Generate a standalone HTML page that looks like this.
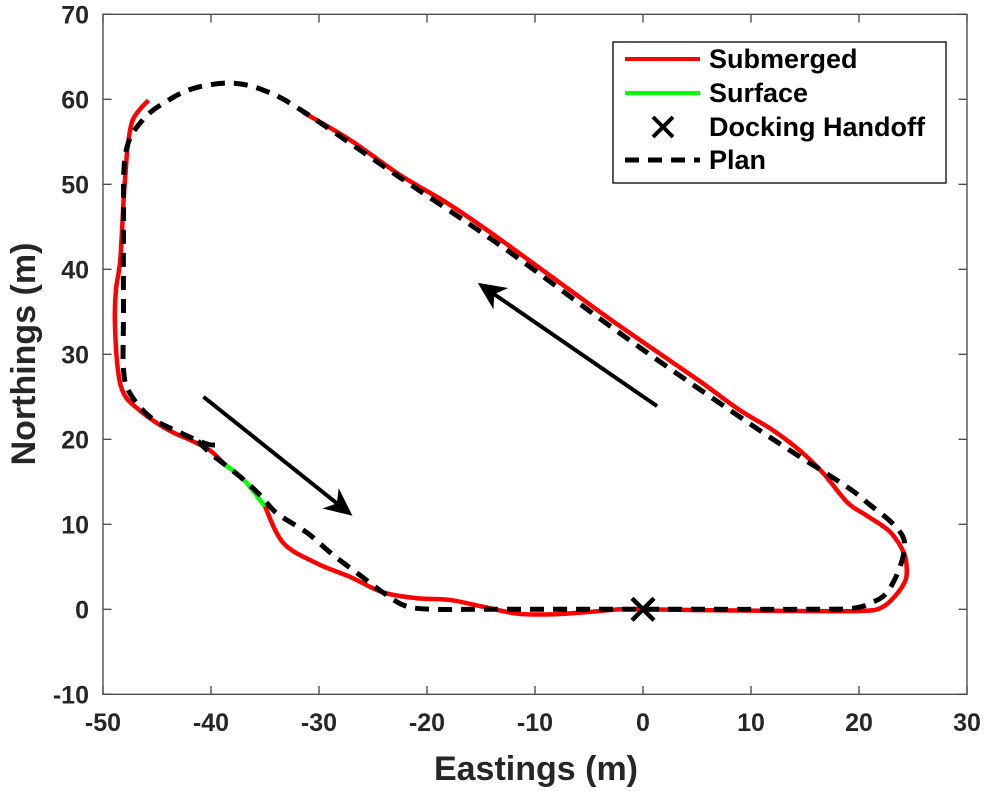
<!DOCTYPE html>
<html><head><meta charset="utf-8"><style>
html,body{margin:0;padding:0;background:#fff;}
svg{display:block;font-family:"Liberation Sans",Arial,sans-serif;font-weight:bold;}
</style></head><body>
<svg id="chart" width="986" height="791" viewBox="0 0 986 791" xmlns="http://www.w3.org/2000/svg">
<g id="marks"></g>
<rect x="103" y="14.3" width="864" height="680" fill="none" stroke="#444" stroke-width="1.3"/>
<g id="axes"></g>
<text x="536" y="780" font-size="34" text-anchor="middle" fill="#262626">Eastings (m)</text>
<text transform="translate(35,354) rotate(-90)" font-size="34" text-anchor="middle" fill="#262626">Northings (m)</text>
<g>
<rect x="613" y="42" width="333" height="141" fill="#fff" stroke="#000" stroke-width="1.3"/>
<line x1="625" y1="59" x2="700" y2="59" stroke="#ff0000" stroke-width="4"/>
<text x="709" y="68" font-size="27">Submerged</text>
<line x1="625" y1="93" x2="700" y2="93" stroke="#00ff00" stroke-width="4"/>
<text x="709" y="102" font-size="27">Surface</text>
<path d="M653,117 L673,137 M673,117 L653,137" stroke="#000" stroke-width="4"/>
<text x="709" y="136" font-size="27">Docking Handoff</text>
<line x1="625" y1="160" x2="700" y2="160" stroke="#000" stroke-width="5" stroke-dasharray="14 9"/>
<text x="709" y="169" font-size="27">Plan</text>
</g>
</svg>
<script>
const xTicks=[-50,-40,-30,-20,-10,0,10,20,30];
const yTicks=[-10,0,10,20,30,40,50,60,70];
const planE=[-41.2,-40,-37.5,-35.5,-33.9,-31.1,-28.7,-26.2,-24.1,-22,-19.5,-15,-5,5,15,19.3,21.2,22.6,23.8,24.2,23.1,21,18.9,13.6,9,1.6,-4,-13.2,-22.5,-31.5,-35,-38,-41.3,-43.8,-46.3,-47.9,-48.1,-48.1,-48.1,-47.5,-45.6,-42.9,-40.5,-39.5];
const planN=[19.8,18.3,15.8,13.5,11.3,9,6.4,4,2,0.4,0,0,0,0,0,0.1,0.8,2,5,8,10.1,12.3,14.4,18.7,22.6,29.1,34.2,42.8,50.8,58.6,61,61.9,61.4,60,57.6,53.7,45,35,28.2,25.4,22.6,20.8,19.5,19.3];
const subE1=[-45.8,-47.2,-47.7,-47.9,-48.1,-48.4,-48.8,-48.9,-48.6,-48,-46.6,-45,-43.5,-41.9,-40.1,-38.7];
const subN1=[59.9,57.7,54.6,51.6,48,41.1,37.6,33.8,28,25.2,23.4,21.9,20.8,19.9,18.7,17];
const surfE=[-38.7,-37,-35];
const surfN=[17,15.3,12.1];
const subE2=[-35,-33.3,-30.2,-27.1,-24.1,-20.9,-17.9,-14.8,-11.7,-8.6,-4.9,-2.1,0,5.3,14.5,20.1,22,23.3,24.3,24.4,24.1,23.1,22.2,20.5,18.9,16.7,14.5,12,9,5.3,-0.3,-4,-13.2,-17.9,-22.5,-27.1,-31.5];
const subN2=[12.1,7.8,5.4,3.8,2,1.3,1.1,0.3,-0.5,-0.6,-0.3,0,0,-0.1,-0.2,-0.2,0.15,1.5,3.4,5.2,6.8,8.8,9.8,11.2,12.6,16,18.7,21.1,23.4,26.8,31.7,35,43.5,47.6,51.1,55.2,58.5];
const dockE=[0], dockN=[0];
const arrowsFrom=[[1.3,23.9],[-40.7,25]];
const arrowsTo=[[-15.3,38.4],[-26.9,11]];

const X=e=>643+10.8*e, Y=n=>609.3-8.5*n;
const NS="http://www.w3.org/2000/svg";
const marks=document.getElementById('marks'), axes=document.getElementById('axes');
function smooth(E,N){
  const p=E.map((e,i)=>[X(e),Y(N[i])]);
  let d=`M${p[0][0]},${p[0][1]}`;
  for(let i=0;i<p.length-1;i++){
    const p0=p[Math.max(0,i-1)],p1=p[i],p2=p[i+1],p3=p[Math.min(p.length-1,i+2)];
    const c1=[p1[0]+(p2[0]-p0[0])/6,p1[1]+(p2[1]-p0[1])/6];
    const c2=[p2[0]-(p3[0]-p1[0])/6,p2[1]-(p3[1]-p1[1])/6];
    d+=` C${c1[0]},${c1[1]} ${c2[0]},${c2[1]} ${p2[0]},${p2[1]}`;
  }
  return d;
}
function mk(tag,attrs,parent){const el=document.createElementNS(NS,tag);for(const k in attrs)el.setAttribute(k,attrs[k]);parent.appendChild(el);return el;}
let el;
el=mk('path',{d:smooth(subE1,subN1),fill:'none',stroke:'#ff0000','stroke-width':4.5,'stroke-linejoin':'round'},marks);


el=mk('path',{d:smooth(subE2,subN2),fill:'none',stroke:'#ff0000','stroke-width':4.5,'stroke-linejoin':'round'},marks);


el=mk('path',{d:smooth(surfE,surfN),fill:'none',stroke:'#00ff00','stroke-width':4.5},marks);


el=mk('path',{d:smooth(planE,planN),fill:'none',stroke:'#000','stroke-width':5,'stroke-dasharray':'14 9'},marks);


dockE.forEach((e,i)=>{const cx=X(e),cy=Y(dockN[i]);
  el=mk('path',{d:`M${cx-11},${cy-11}L${cx+11},${cy+11}M${cx+11},${cy-11}L${cx-11},${cy+11}`,stroke:'#000','stroke-width':4.5},marks);
  
  
});
arrowsFrom.forEach((f,i)=>{
  const x1=X(f[0]),y1=Y(f[1]),x2=X(arrowsTo[i][0]),y2=Y(arrowsTo[i][1]);
  const a=Math.atan2(y2-y1,x2-x1),L=28,W=13;
  const bx=x2-L*Math.cos(a),by=y2-L*Math.sin(a);
  el=mk('line',{x1,y1,x2:bx+8*Math.cos(a),y2:by+8*Math.sin(a),stroke:'#000','stroke-width':4},marks);
  
  
  const px=-Math.sin(a),py=Math.cos(a);
  const nx=x2-(L-8)*Math.cos(a),ny=y2-(L-8)*Math.sin(a);
  el=mk('path',{d:`M${x2},${y2}L${bx+W*px},${by+W*py}L${nx},${ny}L${bx-W*px},${by-W*py}Z`,fill:'#000'},marks);
  
  
});
xTicks.forEach(t=>{const x=X(t);
  el=mk('line',{x1:x,y1:694.3,x2:x,y2:686,stroke:'#444','stroke-width':1.3},axes);
  
  
  el=mk('line',{x1:x,y1:14.3,x2:x,y2:22.6,stroke:'#444','stroke-width':1.3},axes);
  
  
  el=mk('text',{x:x,y:731,'font-size':25,'text-anchor':'middle',fill:'#262626'},axes);el.textContent=t;
  
  
});
yTicks.forEach(t=>{const y=Y(t);
  el=mk('line',{x1:103,y1:y,x2:111.5,y2:y,stroke:'#444','stroke-width':1.3},axes);
  
  
  el=mk('line',{x1:967,y1:y,x2:958.5,y2:y,stroke:'#444','stroke-width':1.3},axes);
  
  
  el=mk('text',{x:89,y:y+9,'font-size':25,'text-anchor':'end',fill:'#262626'},axes);el.textContent=t;
  
  
});
</script>
</body></html>
